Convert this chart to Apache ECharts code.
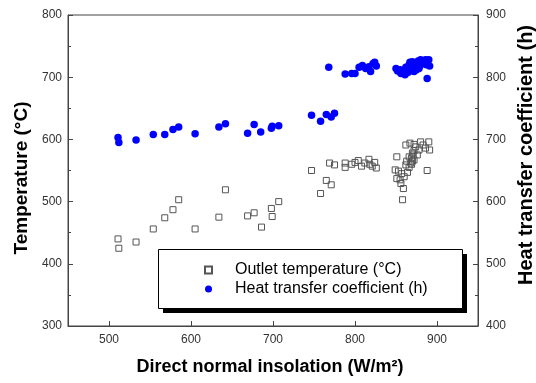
<!DOCTYPE html>
<html>
<head>
<meta charset="utf-8">
<script src="https://cdn.jsdelivr.net/npm/echarts@6/dist/echarts.min.js"></script>
<style>html,body{margin:0;padding:0;background:#fff}#c{width:536px;height:383px}</style>
</head>
<body>
<div id="c"></div>
<script>
// Direct normal insolation (W/m2) and heat transfer coefficient (h)
var insolationH = [511,512,533,554,568,578,585,605,634,642,669,677,685,698,699,707,747,758,765,771,775,
  768,788,796,800,805,809,813,817,819,822,824,826,
  850,852,856,861,864,866,868,870,872,874,876,878,880,883,887,890,891,888,
  855,858,862,865,869,871,873,875,877,879,882,885,886,860,867];
var hValues = [703,695,699,708,708,716,720,709,720,725,710,724,712,718,721,722,739,729,740,736,742,
  816,805,806,806,816,819,814,817,809,822,824,818,
  814,810,806,804,812,820,814,825,809,817,821,814,828,822,820,828,818,798,
  812,808,816,808,820,816,823,812,826,818,826,824,828,810,824];
// Direct normal insolation (W/m2) and outlet temperature (C)
var insolationT = [511,512,533,554,568,578,585,605,634,642,669,677,686,698,699,707,747,758,765,771,769,775,
  788,788,796,800,804,808,812,817,818,821,824,826,
  851,849,851,853,856,859,858,860,862,864,866,868,870,872,874,876,878,883,886,890,891,888,
  862,867,872,880,869,870,871,869,872,866,863,857,855];
var tempValues = [440,425,435,456,474,487,503,456,475,519,477,482,459,489,476,500,550,513,534,527,562,559,
  555,562,560,563,566,557,562,568,560,557,563,554,
  572,551,537,549,529,521,503,540,559,547,572,562,578,567,588,575,583,591,586,596,583,550,
  591,594,592,596,570,565,575,560,582,555,565,545,535];
var xTicks = [500,600,700,800,900];

var FONT = 'Liberation Sans, Arial, sans-serif';
function pairs(xs, ys){ return xs.map(function(x,i){ return [x, ys[i]]; }); }

var chart = echarts.init(document.getElementById('c'), null, {renderer:'canvas'});
var axisCommon = {
  axisLine: {show:true, lineStyle:{color:'#444', width:1}},
  axisTick: {show:true, inside:true, length:5, lineStyle:{color:'#444'}},
  minorTick: {show:true, splitNumber:2, length:3, lineStyle:{color:'#444'}},
  splitLine: {show:false},
  axisLabel: {color:'#333', fontFamily:FONT, fontSize:12}
};
chart.setOption({
  animation:false,
  backgroundColor:'#fff',
  grid:{left:68, right:58, top:15, bottom:57, show:true, borderColor:'#444', borderWidth:1, backgroundColor:'transparent'},
  xAxis: Object.assign({}, axisCommon, {
    type:'value', min:450, max:950, interval:50,
    axisLabel:{color:'#333', fontFamily:FONT, fontSize:12, margin:8,
      formatter:function(v){ return xTicks.indexOf(v) >= 0 ? String(v) : ''; }},
    axisTick:{show:true, inside:true, length:5, lineStyle:{color:'#444'},
      customValues: xTicks},
    minorTick:{show:false}
  }),
  yAxis: [
    Object.assign({}, axisCommon, {type:'value', min:300, max:800, interval:100, position:'left',
      axisLabel:{color:'#333', fontFamily:FONT, fontSize:12, margin:6}}),
    Object.assign({}, axisCommon, {type:'value', min:400, max:900, interval:100, position:'right',
      axisLabel:{color:'#333', fontFamily:FONT, fontSize:12, margin:8}})
  ],
  legend:{
    orient:'vertical', left:204, top:262, padding:0, itemGap:3, itemWidth:7, itemHeight:7, z:10,
    textStyle:{fontFamily:FONT, fontSize:16, color:'#000', padding:[0,0,0,18]},
    data:['Outlet temperature (°C)','Heat transfer coefficient (h)']
  },
  graphic:[
    {type:'rect', left:163, top:254, z:2, silent:true,
      shape:{width:304, height:59},
      style:{fill:'#000'}},
    {type:'rect', left:158, top:249, z:3, silent:true,
      shape:{width:304, height:59},
      style:{fill:'#fff', stroke:'#000', lineWidth:1}},
    {type:'text', x:22, y:178, rotation:Math.PI/2, z:5,
      style:{text:'Temperature (°C)', font:'bold 19px '+FONT, fill:'#000', align:'center', verticalAlign:'middle'}},
    {type:'text', x:526, y:155, rotation:Math.PI/2, z:5,
      style:{text:'Heat transfer coefficient (h)', font:'bold 20px '+FONT, fill:'#000', align:'center', verticalAlign:'middle'}},
    {type:'text', x:270, y:367, z:5,
      style:{text:'Direct normal insolation (W/m²)', font:'bold 18px '+FONT, fill:'#000', align:'center', verticalAlign:'middle'}}
  ],
  series:[
    {name:'Outlet temperature (°C)', type:'scatter', yAxisIndex:0, symbol:'rect', symbolSize:6,
      itemStyle:{color:'rgba(255,255,255,0)', borderColor:'#555', borderWidth:1, opacity:1},
      data:pairs(insolationT, tempValues)},
    {name:'Heat transfer coefficient (h)', type:'scatter', yAxisIndex:1, symbol:'circle', symbolSize:7.5,
      itemStyle:{color:'#0000ff', opacity:1},
      data:pairs(insolationH, hValues)}
  ]
});
</script>
</body>
</html>
